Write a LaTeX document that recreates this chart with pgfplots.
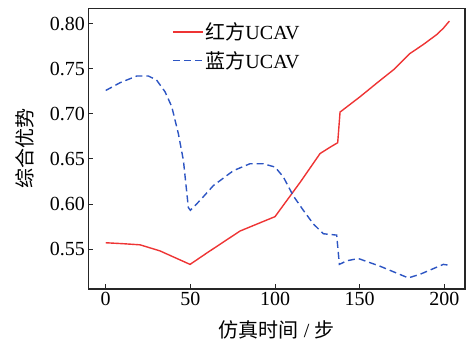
\documentclass[border=0pt]{standalone}
\usepackage{pgfplots}
\pgfplotsset{compat=1.18}
\usepackage{fontspec}
\setmainfont{Liberation Serif}
\newfontfamily\cjk{Noto Sans CJK SC}
\definecolor{redline}{RGB}{238,52,52}
\definecolor{blueline}{RGB}{45,85,195}

\begin{document}
\begin{tikzpicture}[font=\fontsize{20bp}{24bp}\selectfont]
\path[use as bounding box] (-88.3bp,-53bp) rectangle (378.7bp,289bp);
\begin{axis}[
  at={(0,0)}, anchor=south west,
  scale only axis,
  width=376.7bp, height=280.3bp,
  xmin=-10.3, xmax=212.2,
  ymin=0.5057, ymax=0.8167,
  xtick={0,50,100,150,200},
  ytick={0.55,0.60,0.65,0.70,0.75,0.80},
  tick pos=left, tick align=inside,
  major tick length=5bp,
  axis line style={line width=1.3bp, black!85},
  every tick/.style={line width=1bp, black!85},
  /pgf/number format/assume math mode=true,
  yticklabel style={/pgf/number format/.cd, fixed, fixed zerofill, precision=2},
  xlabel={{\cjk 仿真时间} / {\cjk 步}},
  ylabel={\cjk 综合优势},
  xlabel style={at={(axis description cs:0.5,0)}, anchor=center, yshift=-41bp},
  ylabel style={at={(axis description cs:0,0.5)}, anchor=center, yshift=63bp},
  legend style={at={(0.214,0.965)}, anchor=north west, draw=none, fill=none,
    row sep=6bp, font=\fontsize{20bp}{24bp}\selectfont},
  legend cell align=left,
  legend image code/.code={\draw[#1] (0bp,0bp) -- (30bp,0bp);},
]
\addplot[color=redline, line width=1.4bp] coordinates {
(0,0.557) (10,0.556) (20.3,0.5547) (32,0.548) (49.8,0.533)
(60,0.546) (79.3,0.570) (100,0.586) (107,0.604) (114.8,0.624)
(126.6,0.656) (132.5,0.663) (137,0.668) (138.4,0.702) (150.2,0.719)
(160,0.734) (170,0.749) (179.7,0.767) (187.6,0.777) (195.5,0.788)
(199.4,0.795) (203,0.803)
};
\addlegendentry{{\cjk 红方}UCAV}
\addplot[color=blueline, line width=1.4bp, dash pattern=on 7bp off 4bp] coordinates {
(0,0.726) (8.5,0.7346) (18.3,0.742) (25.2,0.742) (30,0.7376)
(35,0.7246) (39,0.708) (42.9,0.678) (45.9,0.648) (48.8,0.596)
(50,0.593) (55.7,0.604) (63.6,0.6205) (75.4,0.637) (85.2,0.6447)
(93,0.6447) (100,0.641) (104.9,0.630) (110.8,0.609) (116.7,0.593)
(122.6,0.578) (128.5,0.567) (136.4,0.5655) (138,0.533) (142.3,0.537)
(149.2,0.5395) (162,0.531) (178.7,0.518) (185.6,0.522) (199.4,0.533)
(203,0.532)
};
\addlegendentry{{\cjk 蓝方}UCAV}
\end{axis}
\end{tikzpicture}
\end{document}
